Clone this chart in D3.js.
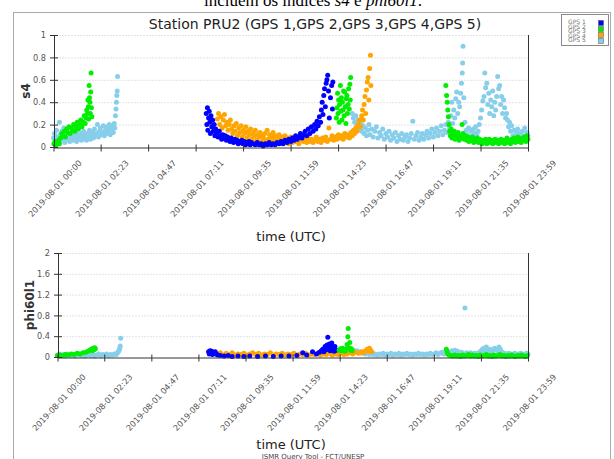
<!DOCTYPE html>
<html>
<head>
<meta charset="utf-8">
<script src="https://cdn.jsdelivr.net/npm/d3@7"></script>
<style>
body { margin: 0; background: #fff; }
svg { display: block; font-family: "DejaVu Sans", sans-serif; }
</style>
</head>
<body>
<svg width="614" height="459"></svg>
<script>
// time ticks of both panels
var xTickLabels = ["2019-08-01 00:00", "2019-08-01 02:23", "2019-08-01 04:47", "2019-08-01 07:11",
  "2019-08-01 09:35", "2019-08-01 11:59", "2019-08-01 14:23", "2019-08-01 16:47",
  "2019-08-01 19:11", "2019-08-01 21:35", "2019-08-01 23:59"];
var s4Ticks = [0, 0.2, 0.4, 0.6, 0.8, 1];
var phiTicks = [0, 0.4, 0.8, 1.2, 1.6, 2];
var gpsNames = ["GPS 1", "GPS 2", "GPS 3", "GPS 4", "GPS 5"];
var gpsColors = {"GPS 1": "#0000ff", "GPS 2": "#00ee00", "GPS 3": "#ffa500", "GPS 5": "#87ceeb"};

// [hour of day (UTC), value]
var s4Gps1 = [[7.72,0.3],[7.75,0.2],[7.78,0.35],[7.8,0.15],[7.84,0.26],[7.87,0.32],[7.9,0.22],[7.93,0.12],[7.96,0.28],[8.0,0.18],
  [8.04,0.24],[8.08,0.14],[8.12,0.2],[8.16,0.1],[8.2,0.16],[8.26,0.12],[8.32,0.09],[8.38,0.14],[8.44,0.1],[8.5,0.07],
  [8.56,0.11],[8.62,0.08],[8.68,0.1],[8.74,0.06],[8.8,0.09],[8.86,0.07],[8.92,0.05],[8.98,0.08],[9.04,0.06],[9.1,0.04],
  [9.16,0.07],[9.22,0.05],[9.28,0.06],[9.34,0.03],[9.4,0.05],[9.46,0.04],[9.52,0.06],[9.58,0.03],[9.64,0.05],[9.7,0.02],
  [9.76,0.04],[9.82,0.03],[9.88,0.05],[9.94,0.02],[10.0,0.04],[10.1,0.03],[10.2,0.02],[10.3,0.04],[10.4,0.02],[10.5,0.03],
  [10.6,0.01],[10.7,0.03],[10.8,0.02],[10.9,0.04],[11.0,0.02],[11.1,0.03],[11.2,0.02],[11.3,0.04],[11.4,0.03],[11.5,0.05],
  [11.6,0.03],[11.7,0.06],[11.8,0.04],[11.9,0.07],[12.0,0.05],[12.08,0.08],[12.16,0.06],[12.24,0.1],[12.32,0.07],[12.4,0.09],
  [12.48,0.12],[12.56,0.08],[12.64,0.11],[12.72,0.14],[12.8,0.1],[12.88,0.16],[12.96,0.12],[13.04,0.18],[13.12,0.14],[13.2,0.2],
  [13.26,0.16],[13.32,0.23],[13.38,0.19],[13.44,0.27],[13.5,0.22],[13.54,0.33],[13.58,0.4],[13.62,0.29],[13.66,0.46],[13.7,0.52],
  [13.74,0.36],[13.78,0.57],[13.82,0.6],[13.86,0.64],[13.9,0.5],[13.94,0.26],[14.0,0.44],[14.06,0.55],[14.12,0.58],[14.1,0.34]];

var s4Gps2 = [[0.02,0.03],[0.08,0.05],[0.14,0.02],[0.2,0.04],[0.26,0.06],[0.3,0.03],[0.36,0.08],[0.42,0.12],[0.48,0.1],[0.55,0.14],
  [0.6,0.09],[0.66,0.16],[0.72,0.13],[0.78,0.18],[0.84,0.12],[0.9,0.17],[0.96,0.15],[1.02,0.2],[1.08,0.14],[1.14,0.18],
  [1.2,0.22],[1.26,0.16],[1.32,0.2],[1.38,0.24],[1.44,0.18],[1.5,0.22],[1.55,0.28],[1.6,0.21],[1.64,0.26],[1.68,0.33],
  [1.72,0.3],[1.74,0.42],[1.76,0.36],[1.78,0.25],[1.8,0.55],[1.82,0.44],[1.84,0.4],[1.86,0.3],[1.88,0.49],[1.9,0.66],
  [1.92,0.35],[1.94,0.27],
  [14.3,0.26],[14.33,0.35],[14.36,0.48],[14.38,0.3],[14.41,0.42],[14.44,0.22],[14.46,0.38],[14.5,0.55],[14.52,0.32],[14.55,0.44],
  [14.58,0.24],[14.6,0.4],[14.63,0.33],[14.66,0.5],[14.69,0.28],[14.72,0.49],[14.75,0.36],[14.78,0.21],[14.8,0.43],[14.83,0.46],
  [14.86,0.3],[14.89,0.38],[14.92,0.52],[14.95,0.34],[14.98,0.56],[15.02,0.62],[15.0,0.42],
  [19.83,0.55],[19.87,0.46],[19.9,0.4],[19.93,0.33],[19.96,0.27],[19.99,0.2],[20.02,0.14],[20.06,0.1],[20.1,0.16],[20.14,0.08],
  [20.18,0.12],[20.22,0.09],[20.26,0.14],[20.3,0.07],[20.35,0.11],[20.4,0.09],[20.45,0.13],[20.5,0.06],[20.55,0.1],[20.6,0.08],
  [20.65,0.2],[20.7,0.12],[20.76,0.07],[20.82,0.1],[20.88,0.06],[20.94,0.09],[21.0,0.05],[21.06,0.08],[21.12,0.06],[21.18,0.09],
  [21.24,0.04],[21.3,0.07],[21.36,0.05],[21.42,0.08],[21.48,0.04],[21.54,0.07],[21.6,0.05],[21.66,0.03],[21.72,0.06],[21.78,0.04],
  [21.84,0.07],[21.9,0.03],[21.96,0.05],[22.02,0.07],[22.08,0.04],[22.14,0.06],[22.2,0.03],[22.26,0.05],[22.32,0.07],[22.38,0.04],
  [22.44,0.06],[22.5,0.03],[22.56,0.05],[22.62,0.07],[22.68,0.04],[22.74,0.06],[22.8,0.03],[22.86,0.05],[22.92,0.08],[22.98,0.04],
  [23.04,0.06],[23.1,0.03],[23.16,0.07],[23.22,0.05],[23.28,0.08],[23.34,0.04],[23.4,0.06],[23.46,0.09],[23.52,0.05],[23.58,0.07],
  [23.64,0.04],[23.7,0.08],[23.76,0.06],[23.82,0.09],[23.88,0.05],[23.94,0.1],[23.98,0.07]];

var s4Gps3 = [[8.28,0.25],[8.34,0.3],[8.4,0.2],[8.46,0.27],[8.52,0.17],[8.58,0.24],[8.64,0.29],[8.7,0.19],[8.76,0.22],[8.82,0.15],
  [8.88,0.2],[8.94,0.24],[9.0,0.16],[9.06,0.12],[9.12,0.19],[9.18,0.14],[9.24,0.21],[9.3,0.1],[9.36,0.17],[9.42,0.13],
  [9.48,0.19],[9.54,0.09],[9.6,0.15],[9.66,0.12],[9.72,0.18],[9.78,0.08],[9.84,0.14],[9.9,0.11],[9.96,0.16],[10.02,0.07],
  [10.08,0.12],[10.14,0.1],[10.2,0.15],[10.26,0.06],[10.32,0.11],[10.38,0.09],[10.44,0.13],[10.5,0.05],[10.56,0.1],[10.62,0.08],
  [10.68,0.12],[10.74,0.06],[10.8,0.15],[10.86,0.07],[10.92,0.11],[10.98,0.05],[11.04,0.09],[11.1,0.13],[11.16,0.06],[11.22,0.1],
  [11.28,0.04],[11.34,0.08],[11.4,0.11],[11.46,0.05],[11.52,0.09],[11.58,0.04],[11.64,0.07],[11.7,0.1],[11.76,0.05],[11.82,0.08],
  [11.88,0.03],[11.94,0.06],[12.0,0.09],[12.08,0.04],[12.16,0.07],[12.24,0.05],[12.32,0.08],[12.4,0.03],[12.48,0.06],[12.56,0.09],
  [12.64,0.05],[12.72,0.07],[12.8,0.04],[12.88,0.08],[12.96,0.05],[13.04,0.07],[13.12,0.04],[13.2,0.06],[13.28,0.09],[13.36,0.05],
  [13.44,0.07],[13.52,0.04],[13.6,0.08],[13.68,0.06],[13.76,0.09],[13.84,0.05],[13.92,0.17],[14.0,0.07],[14.08,0.1],[14.16,0.06],
  [14.24,0.09],[14.32,0.07],[14.4,0.11],[14.48,0.08],[14.56,0.1],[14.64,0.07],[14.72,0.12],[14.8,0.09],[14.88,0.11],[14.96,0.08],
  [15.04,0.13],[15.1,0.1],[15.16,0.15],[15.22,0.12],[15.28,0.17],[15.34,0.14],[15.4,0.2],[15.46,0.24],[15.52,0.18],[15.58,0.28],
  [15.62,0.33],[15.66,0.24],[15.7,0.38],[15.74,0.45],[15.78,0.3],[15.82,0.51],[15.86,0.58],[15.9,0.62],[15.94,0.42],[15.98,0.7],
  [16.02,0.82],[16.04,0.55]];

var s4Gps5 = [[0.0,0.08],[0.05,0.12],[0.1,0.05],[0.15,0.15],[0.2,0.09],[0.25,0.03],[0.3,0.22],[0.33,0.11],[0.38,0.06],[0.42,0.14],
  [0.48,0.08],[0.52,0.17],[0.57,0.04],[0.62,0.1],[0.67,0.13],[0.72,0.07],[0.77,0.11],[0.82,0.05],[0.87,0.09],[0.92,0.12],
  [0.97,0.06],[1.02,0.1],[1.07,0.08],[1.12,0.13],[1.17,0.05],[1.22,0.09],[1.27,0.11],[1.32,0.07],[1.37,0.12],[1.42,0.06],
  [1.47,0.1],[1.52,0.14],[1.57,0.08],[1.62,0.11],[1.67,0.06],[1.72,0.12],[1.77,0.09],[1.82,0.15],[1.87,0.07],[1.92,0.11],
  [1.97,0.13],[2.02,0.08],[2.07,0.16],[2.12,0.1],[2.17,0.12],[2.22,0.2],[2.27,0.09],[2.32,0.14],[2.37,0.17],[2.42,0.11],
  [2.47,0.13],[2.52,0.19],[2.57,0.1],[2.62,0.15],[2.67,0.12],[2.72,0.18],[2.77,0.14],[2.82,0.2],[2.87,0.11],[2.92,0.16],
  [2.97,0.19],[3.02,0.13],[3.07,0.21],[3.1,0.17],[3.13,0.28],[3.16,0.34],[3.18,0.4],[3.2,0.46],[3.22,0.5],[3.24,0.63],
  [15.1,0.3],[15.16,0.26],[15.22,0.22],[15.28,0.28],[15.34,0.19],[15.4,0.24],[15.46,0.16],[15.52,0.21],[15.58,0.14],[15.64,0.19],
  [15.7,0.12],[15.76,0.17],[15.82,0.1],[15.88,0.15],[15.94,0.2],[16.0,0.11],[16.08,0.16],[16.16,0.09],[16.24,0.14],[16.32,0.18],
  [16.4,0.08],[16.48,0.13],[16.56,0.1],[16.64,0.16],[16.72,0.07],[16.8,0.12],[16.88,0.09],[16.96,0.14],[17.04,0.06],[17.12,0.11],
  [17.2,0.08],[17.28,0.13],[17.36,0.05],[17.44,0.1],[17.52,0.07],[17.6,0.12],[17.68,0.06],[17.76,0.09],[17.84,0.11],[17.92,0.05],
  [18.0,0.08],[18.08,0.12],[18.16,0.23],[18.24,0.07],[18.32,0.1],[18.4,0.13],[18.48,0.06],[18.56,0.09],[18.64,0.12],[18.72,0.07],
  [18.8,0.11],[18.88,0.14],[18.96,0.08],[19.04,0.12],[19.12,0.16],[19.2,0.09],[19.28,0.13],[19.36,0.17],[19.44,0.1],[19.52,0.14],
  [19.6,0.19],[19.68,0.11],[19.76,0.15],[19.84,0.2],[19.9,0.13],[19.96,0.22],[20.02,0.17],[20.08,0.28],[20.13,0.4],[20.18,0.21],
  [20.23,0.33],[20.28,0.26],[20.33,0.43],[20.38,0.49],[20.43,0.3],[20.48,0.4],[20.53,0.36],[20.58,0.48],[20.62,0.57],[20.66,0.66],
  [20.68,0.75],[20.7,0.9],[20.74,0.44],[20.8,0.22],[20.86,0.15],[20.92,0.11],[20.98,0.17],[21.04,0.09],[21.1,0.14],[21.16,0.1],
  [21.22,0.16],[21.28,0.12],[21.34,0.18],[21.4,0.11],[21.46,0.14],[21.52,0.2],[21.58,0.26],[21.64,0.33],[21.7,0.41],[21.76,0.45],
  [21.8,0.66],[21.84,0.53],[21.9,0.57],[21.95,0.38],[22.0,0.48],[22.05,0.3],[22.1,0.42],[22.15,0.36],[22.2,0.5],[22.25,0.28],
  [22.3,0.4],[22.35,0.33],[22.4,0.45],[22.45,0.63],[22.5,0.52],[22.55,0.55],[22.6,0.38],[22.65,0.45],[22.7,0.3],[22.75,0.42],
  [22.8,0.35],[22.85,0.26],[22.9,0.3],[22.95,0.24],[23.0,0.18],[23.05,0.22],[23.1,0.14],[23.16,0.19],[23.22,0.1],[23.28,0.15],
  [23.34,0.08],[23.4,0.13],[23.46,0.16],[23.52,0.09],[23.58,0.12],[23.64,0.07],[23.7,0.14],[23.76,0.1],[23.82,0.17],[23.88,0.08],
  [23.94,0.13],[23.98,0.1]];

var phiGps1 = [[7.7,0.1],[7.74,0.06],[7.78,0.12],[7.82,0.08],[7.86,0.11],[7.9,0.05],[7.94,0.09],[7.98,0.07],[8.04,0.1],[8.1,0.06],
  [8.16,0.04],[8.3,0.03],[8.5,0.02],[8.7,0.03],[8.9,0.01],[9.2,0.02],[9.5,0.01],[9.8,0.02],[10.2,0.01],[10.6,0.02],
  [11.0,0.01],[11.4,0.02],[11.8,0.02],[12.2,0.03],[12.5,0.08],[12.7,0.04],[13.0,0.1],[13.2,0.06],[13.35,0.09],[13.45,0.12],
  [13.52,0.15],[13.58,0.1],[13.64,0.2],[13.7,0.14],[13.74,0.23],[13.78,0.38],[13.82,0.17],[13.86,0.25],[13.9,0.12],[13.94,0.21],
  [13.98,0.27],[14.02,0.15],[14.06,0.19],[14.1,0.11],[14.14,0.2],[14.2,0.13]];

var phiGps2 = [[0.0,0.03],[0.12,0.04],[0.25,0.03],[0.4,0.05],[0.55,0.04],[0.7,0.06],[0.85,0.05],[1.0,0.07],[1.15,0.06],[1.3,0.08],
  [1.45,0.09],[1.55,0.11],[1.65,0.13],[1.72,0.15],[1.78,0.12],[1.82,0.17],[1.86,0.14],[1.9,0.18],[1.93,0.16],
  [14.36,0.13],[14.42,0.16],[14.48,0.12],[14.54,0.17],[14.6,0.14],[14.66,0.11],[14.72,0.15],[14.76,0.24],[14.8,0.39],[14.82,0.55],
  [14.86,0.18],[14.9,0.28],[14.94,0.13],[14.98,0.16],[15.02,0.12],
  [19.82,0.15],[19.86,0.1],[19.9,0.06],[19.96,0.04],[20.05,0.03],[20.15,0.02],[20.25,0.04],[20.35,0.02],[20.45,0.03],[20.55,0.01],
  [20.65,0.04],[20.75,0.02],[20.85,0.03],[20.95,0.05],[21.05,0.02],[21.15,0.04],[21.25,0.02],[21.35,0.03],[21.45,0.01],[21.55,0.04],
  [21.65,0.02],[21.75,0.03],[21.85,0.05],[21.95,0.02],[22.05,0.03],[22.15,0.01],[22.25,0.04],[22.35,0.02],[22.45,0.03],[22.55,0.05],
  [22.65,0.02],[22.75,0.03],[22.85,0.01],[22.95,0.03],[23.05,0.02],[23.15,0.04],[23.25,0.02],[23.35,0.01],[23.45,0.03],[23.55,0.02],
  [23.65,0.04],[23.75,0.02],[23.85,0.01],[23.95,0.03]];

var phiGps3 = [[8.16,0.06],[8.3,0.08],[8.45,0.04],[8.6,0.07],[8.75,0.05],[8.9,0.08],[9.05,0.04],[9.2,0.06],[9.35,0.05],[9.5,0.07],
  [9.65,0.04],[9.8,0.06],[9.95,0.08],[10.1,0.05],[10.25,0.07],[10.4,0.04],[10.55,0.06],[10.7,0.05],[10.85,0.08],[11.0,0.04],
  [11.15,0.06],[11.3,0.05],[11.45,0.07],[11.6,0.04],[11.75,0.06],[11.9,0.05],[12.05,0.07],[12.2,0.04],[12.35,0.06],[12.5,0.05],
  [12.65,0.07],[12.8,0.04],[12.95,0.06],[13.1,0.05],[13.25,0.07],[13.4,0.04],[13.55,0.06],[13.7,0.05],[13.85,0.07],[14.0,0.04],
  [14.15,0.06],[14.3,0.05],[14.45,0.07],[14.6,0.05],[14.75,0.06],[14.9,0.08],[15.05,0.06],[15.2,0.09],[15.35,0.07],[15.5,0.1],
  [15.6,0.08],[15.7,0.12],[15.78,0.15],[15.84,0.11],[15.9,0.17],[15.96,0.13],[16.02,0.1]];

var phiGps5 = [[0.0,0.04],[0.1,0.06],[0.2,0.03],[0.3,0.05],[0.4,0.02],[0.5,0.06],[0.6,0.04],[0.7,0.03],[0.8,0.05],[0.9,0.02],
  [1.0,0.04],[1.1,0.06],[1.2,0.03],[1.3,0.05],[1.4,0.02],[1.5,0.04],[1.6,0.06],[1.7,0.03],[1.8,0.05],[1.9,0.02],
  [2.0,0.04],[2.1,0.06],[2.2,0.03],[2.3,0.05],[2.4,0.04],[2.5,0.06],[2.6,0.03],[2.7,0.05],[2.8,0.04],[2.9,0.06],
  [3.0,0.05],[3.06,0.08],[3.1,0.1],[3.14,0.13],[3.17,0.17],[3.2,0.21],[3.22,0.36],
  [15.1,0.13],[15.18,0.1],[15.26,0.12],[15.34,0.08],[15.42,0.1],[15.5,0.07],[15.6,0.09],[15.7,0.06],[15.8,0.08],[15.9,0.05],
  [16.0,0.07],[16.1,0.05],[16.2,0.06],[16.3,0.04],[16.4,0.06],[16.5,0.05],[16.6,0.07],[16.7,0.04],[16.8,0.06],[16.9,0.05],
  [17.0,0.07],[17.1,0.04],[17.2,0.06],[17.3,0.05],[17.4,0.07],[17.5,0.04],[17.6,0.06],[17.7,0.05],[17.8,0.07],[17.9,0.05],
  [18.0,0.06],[18.1,0.04],[18.2,0.06],[18.3,0.05],[18.4,0.07],[18.5,0.05],[18.6,0.06],[18.7,0.04],[18.8,0.06],[18.9,0.05],
  [19.0,0.07],[19.1,0.05],[19.2,0.06],[19.3,0.08],[19.4,0.05],[19.5,0.07],[19.6,0.09],[19.7,0.06],[19.8,0.08],[19.9,0.1],
  [20.0,0.07],[20.1,0.12],[20.2,0.09],[20.26,0.13],[20.32,0.08],[20.4,0.11],[20.5,0.07],[20.6,0.09],[20.7,0.06],[20.77,0.94],
  [20.85,0.08],[20.95,0.06],[21.05,0.08],[21.15,0.05],[21.25,0.07],[21.35,0.06],[21.45,0.08],[21.55,0.1],[21.62,0.13],[21.68,0.16],
  [21.74,0.12],[21.8,0.18],[21.86,0.19],[21.92,0.14],[21.98,0.11],[22.05,0.15],[22.12,0.1],[22.2,0.13],[22.28,0.17],[22.36,0.15],
  [22.44,0.12],[22.5,0.19],[22.56,0.16],[22.62,0.11],[22.7,0.08],[22.8,0.07],[22.9,0.05],[23.0,0.07],[23.1,0.06],[23.2,0.05],
  [23.3,0.07],[23.4,0.06],[23.5,0.05],[23.6,0.07],[23.7,0.06],[23.8,0.05],[23.9,0.07],[23.98,0.06]];

var svg = d3.select("svg");
var parseTime = d3.timeParse("%Y-%m-%d %H:%M");
var tickDates = xTickLabels.map(parseTime);
var t0 = tickDates[0];

function toDate(h) {
  return new Date(t0.getTime() + h * 3600000);
}

// page caption, cut by the top of the picture
var cap = svg.append("text")
    .attr("x", 313).attr("y", 6)
    .attr("text-anchor", "middle")
    .style("font-family", "'Liberation Serif', serif")
    .style("font-size", "17px");
cap.append("tspan").text("incluem os índices ");
cap.append("tspan").style("font-style", "italic").text("s4");
cap.append("tspan").text(" e ");
cap.append("tspan").style("font-style", "italic").text("phi60l1");
cap.append("tspan").text(".");

// frame of the tool output
svg.append("rect")
    .attr("x", 13.5).attr("y", 12.5)
    .attr("width", 597).attr("height", 460)
    .attr("fill", "none")
    .attr("stroke", "#aaa");

svg.append("text")
    .attr("x", 315).attr("y", 29)
    .attr("text-anchor", "middle")
    .style("font-size", "14px")
    .attr("fill", "#222")
    .text("Station PRU2 (GPS 1,GPS 2,GPS 3,GPS 4,GPS 5)");

function panel(o) {
  var g = svg.append("g");

  var x = d3.scaleTime()
      .domain([t0, tickDates[tickDates.length - 1]])
      .range([o.left, o.right]);
  var y = d3.scaleLinear()
      .domain([0, o.ticks[o.ticks.length - 1]])
      .range([o.bottom, o.top]);

  // dotted grid
  g.selectAll(".grid")
      .data(o.ticks.slice(1))
      .enter().append("line")
      .attr("x1", o.left).attr("x2", o.right)
      .attr("y1", function(d) { return y(d) + 0.5; })
      .attr("y2", function(d) { return y(d) + 0.5; })
      .attr("stroke", "#c8c8c8")
      .attr("stroke-dasharray", "1,2");

  o.series.forEach(function(s) {
    g.append("g").selectAll("circle")
        .data(s.data)
        .enter().append("circle")
        .attr("cx", function(d) { return x(toDate(d[0])); })
        .attr("cy", function(d) { return y(d[1]); })
        .attr("r", 2.5)
        .attr("fill", gpsColors[s.name]);
  });

  var xAxis = g.append("g")
      .attr("transform", "translate(0," + (o.bottom + 0.5) + ")")
      .call(d3.axisBottom(x)
        .tickValues(tickDates)
        .tickFormat(d3.timeFormat("%Y-%m-%d %H:%M"))
        .tickSizeOuter(0));
  xAxis.selectAll(".tick line").attr("y1", -3).attr("y2", 4).attr("stroke", "#333");
  xAxis.selectAll(".tick text")
      .attr("y", 0).attr("dy", "0.35em")
      .attr("transform", "translate(1," + o.labelDrop + ") rotate(-47)")
      .attr("text-anchor", "middle")
      .attr("fill", "#555")
      .style("font-size", "8.2px")
      .style("font-family", "'DejaVu Sans', sans-serif");
  xAxis.select(".domain").attr("stroke", "#333");

  var yAxis = g.append("g")
      .attr("transform", "translate(" + (o.left + 0.5) + ",0)")
      .call(d3.axisLeft(y).tickValues(o.ticks).tickFormat(String).tickSizeOuter(0));
  yAxis.selectAll(".tick line").attr("x1", 4).attr("x2", -4).attr("stroke", "#333");
  yAxis.selectAll(".tick text")
      .attr("x", -8)
      .attr("fill", "#555")
      .style("font-size", "8.2px")
      .style("font-family", "'DejaVu Sans', sans-serif");
  yAxis.select(".domain").attr("stroke", "#333");

  // right border
  g.append("line")
      .attr("x1", o.right + 0.5).attr("x2", o.right + 0.5)
      .attr("y1", o.top).attr("y2", o.bottom + 3)
      .attr("stroke", "#333");

  g.append("text")
      .attr("transform", "translate(" + o.yLabelX + "," + (o.top + o.bottom) / 2 + ") rotate(-90)")
      .attr("text-anchor", "middle")
      .attr("dy", "0.35em")
      .style("font-size", "12px")
      .style("font-weight", "bold")
      .attr("fill", "#333")
      .text(o.yLabel);

  g.append("text")
      .attr("x", 291).attr("y", o.bottom + o.xLabelDrop)
      .attr("text-anchor", "middle")
      .style("font-size", "13px")
      .attr("fill", "#222")
      .text("time (UTC)");
}

panel({
  left: 53.5, right: 528, top: 35, bottom: 147,
  ticks: s4Ticks, yLabel: "s4", yLabelX: 26, labelDrop: 41, xLabelDrop: 94,
  series: [{name: "GPS 5", data: s4Gps5}, {name: "GPS 3", data: s4Gps3},
           {name: "GPS 1", data: s4Gps1}, {name: "GPS 2", data: s4Gps2}]
});

panel({
  left: 57.5, right: 528, top: 253, bottom: 357,
  ticks: phiTicks, yLabel: "phi60l1", yLabelX: 30, labelDrop: 45, xLabelDrop: 92,
  series: [{name: "GPS 5", data: phiGps5}, {name: "GPS 3", data: phiGps3},
           {name: "GPS 1", data: phiGps1}, {name: "GPS 2", data: phiGps2}]
});

// legend (labels are packed tightly, as in the tool output)
var legend = svg.append("g").attr("transform", "translate(561,14)");
legend.append("rect")
    .attr("x", 0.5).attr("y", 0.5)
    .attr("width", 47).attr("height", 31)
    .attr("fill", "#fff")
    .attr("stroke", "#888");
legend.selectAll(".lab")
    .data(gpsNames)
    .enter().append("text")
    .attr("x", 7)
    .attr("y", function(d, i) { return 10 + i * 4.6; })
    .style("font-size", "6px")
    .attr("fill", "#777")
    .text(function(d) { return d; });
legend.selectAll(".sw")
    .data(gpsNames.filter(function(d) { return gpsColors[d]; }))
    .enter().append("rect")
    .attr("x", 37.5)
    .attr("y", function(d, i) { return 6.5 + i * 6; })
    .attr("width", 5).attr("height", 5)
    .attr("fill", function(d) { return gpsColors[d]; })
    .attr("stroke", "#555")
    .attr("stroke-width", 0.5);

svg.append("text")
    .attr("x", 313).attr("y", 459)
    .attr("text-anchor", "middle")
    .style("font-size", "7px")
    .attr("fill", "#444")
    .text("ISMR Query Tool - FCT/UNESP");
</script>
</body>
</html>
